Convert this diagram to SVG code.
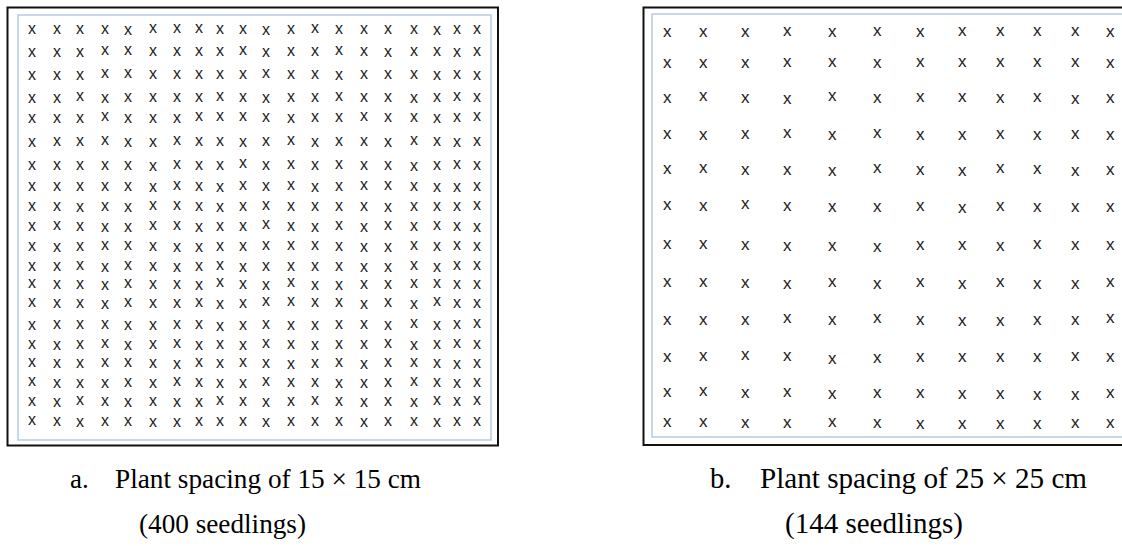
<svg xmlns="http://www.w3.org/2000/svg" width="1122" height="546" viewBox="0 0 1122 546">
<style>
.outer{fill:none;stroke:#111;stroke-width:2}
.inner{fill:none;stroke:#b7cbe0;stroke-width:1.5}
.xs{font-family:"Liberation Sans",Arial,sans-serif;font-size:16px;fill:#222}
.xr{font-family:"Liberation Sans",Arial,sans-serif;font-size:17px;fill:#222}
.cap{font-family:"Liberation Serif","Times New Roman",serif;font-size:27px;fill:#000}
.capb{font-family:"Liberation Serif","Times New Roman",serif;font-size:28.5px;fill:#000}
</style>
<rect width="1122" height="546" fill="#fff"/>
<g id="panel-a">
<rect class="outer" x="7.5" y="7.5" width="490.5" height="438"/>
<rect class="inner" x="18" y="15" width="473" height="425"/>
<g class="xs">
<text x="28 53 76 101 124 149 173 195 216 239 262 287 311 335 360 384 410 433 453 473" y="34 34 34 34 35 33 33 33 34 34 35 34 33 34 34 34 34 35 34 34">xxxxxxxxxxxxxxxxxxxx</text>
<text x="28 53 76 101 124 149 173 195 216 239 262 287 311 335 360 384 410 433 453 473" y="57 57 57 55 55 56 56 56 56 55 57 56 56 55 56 57 56 56 57 56">xxxxxxxxxxxxxxxxxxxx</text>
<text x="28 53 76 101 124 149 173 195 216 239 262 287 311 335 360 384 410 433 453 473" y="80 80 80 78 78 79 79 79 79 79 78 79 79 80 79 79 79 80 79 80">xxxxxxxxxxxxxxxxxxxx</text>
<text x="28 53 76 101 124 149 173 195 216 239 262 287 311 335 360 384 410 433 453 473" y="103 103 101 103 102 102 102 102 101 102 103 102 102 101 102 102 103 102 101 102">xxxxxxxxxxxxxxxxxxxx</text>
<text x="28 53 76 101 124 149 173 195 216 239 262 287 311 335 360 384 410 433 453 473" y="123 123 123 121 123 123 123 121 121 121 122 123 122 122 121 122 122 123 122 121">xxxxxxxxxxxxxxxxxxxx</text>
<text x="28 53 76 101 124 149 173 195 216 239 262 287 311 335 360 384 410 433 453 473" y="147 146 146 145 147 147 145 146 146 147 146 145 147 146 146 147 145 146 147 146">xxxxxxxxxxxxxxxxxxxx</text>
<text x="28 53 76 101 124 149 173 195 216 239 262 287 311 335 360 384 410 433 453 473" y="170 170 170 170 170 171 169 170 170 168 170 169 170 169 170 170 171 170 169 170">xxxxxxxxxxxxxxxxxxxx</text>
<text x="28 53 76 101 124 149 173 195 216 239 262 287 311 335 360 384 410 433 453 473" y="191 191 191 191 191 192 190 191 192 190 191 190 192 191 190 190 191 192 192 191">xxxxxxxxxxxxxxxxxxxx</text>
<text x="28 53 76 101 124 149 173 195 216 239 262 287 311 335 360 384 410 433 453 473" y="211 211 212 211 212 210 210 211 212 211 210 211 211 211 211 212 211 211 211 210">xxxxxxxxxxxxxxxxxxxx</text>
<text x="28 53 76 101 124 149 173 195 216 239 262 287 311 335 360 384 410 433 453 473" y="231 230 231 232 232 230 230 232 231 231 229 231 232 230 232 230 231 230 231 232">xxxxxxxxxxxxxxxxxxxx</text>
<text x="28 53 76 101 124 149 173 195 216 239 262 287 311 335 360 384 410 433 453 473" y="251 252 251 250 250 251 252 252 251 251 250 250 250 251 252 252 250 251 250 251">xxxxxxxxxxxxxxxxxxxx</text>
<text x="28 53 76 101 124 149 173 195 216 239 262 287 311 335 360 384 410 433 453 473" y="271 271 270 272 270 271 272 271 270 272 271 271 271 271 272 272 270 272 270 270">xxxxxxxxxxxxxxxxxxxx</text>
<text x="28 53 76 101 124 149 173 195 216 239 262 287 311 335 360 384 410 433 453 473" y="288 289 289 290 288 289 289 290 287 289 290 287 290 290 289 289 288 288 289 289">xxxxxxxxxxxxxxxxxxxx</text>
<text x="28 53 76 101 124 149 173 195 216 239 262 287 311 335 360 384 410 433 453 473" y="307 308 308 309 307 308 308 307 309 308 306 306 307 307 309 307 309 306 308 308">xxxxxxxxxxxxxxxxxxxx</text>
<text x="28 53 76 101 124 149 173 195 216 239 262 287 311 335 360 384 410 433 453 473" y="330 329 329 329 330 330 329 329 331 330 329 330 330 329 329 330 328 330 329 328">xxxxxxxxxxxxxxxxxxxx</text>
<text x="28 53 76 101 124 149 173 195 216 239 262 287 311 335 360 384 410 433 453 473" y="349 350 349 348 350 349 348 350 349 350 348 349 350 349 349 348 350 349 348 349">xxxxxxxxxxxxxxxxxxxx</text>
<text x="28 53 76 101 124 149 173 195 216 239 262 287 311 335 360 384 410 433 453 473" y="367 368 368 367 367 368 369 367 368 367 368 369 368 367 369 367 367 368 369 368">xxxxxxxxxxxxxxxxxxxx</text>
<text x="28 53 76 101 124 149 173 195 216 239 262 287 311 335 360 384 410 433 453 473" y="386 388 388 388 387 388 386 387 388 388 386 387 387 388 388 387 386 387 388 387">xxxxxxxxxxxxxxxxxxxx</text>
<text x="28 53 76 101 124 149 173 195 216 239 262 287 311 335 360 384 410 433 453 473" y="406 407 405 406 407 406 407 407 405 406 407 406 405 406 407 406 407 405 406 405">xxxxxxxxxxxxxxxxxxxx</text>
<text x="28 53 76 101 124 149 173 195 216 239 262 287 311 335 360 384 410 433 453 473" y="425 426 427 426 426 427 427 426 426 426 427 426 426 426 427 426 426 427 426 426">xxxxxxxxxxxxxxxxxxxx</text>
</g>
</g>
<g id="panel-b">
<rect class="outer" x="643.5" y="7.5" width="500" height="437.5"/>
<rect class="inner" x="652" y="14" width="490" height="423"/>
<g class="xr">
<text x="663 699 741 783 828 873 916 958 996 1033 1071 1106" y="37 37 37 36 37 36 37 36 36 36 36 37">xxxxxxxxxxxx</text>
<text x="663 699 741 783 828 873 916 958 996 1033 1071 1106" y="68 68 68 67 67 68 67 67 67 67 67 68">xxxxxxxxxxxx</text>
<text x="663 699 741 783 828 873 916 958 996 1033 1071 1106" y="103 101 103 104 101 103 102 102 103 102 104 103">xxxxxxxxxxxx</text>
<text x="663 699 741 783 828 873 916 958 996 1033 1071 1106" y="139 140 139 138 140 138 140 140 139 140 139 140">xxxxxxxxxxxx</text>
<text x="663 699 741 783 828 873 916 958 996 1033 1071 1106" y="174 173 175 175 176 173 175 176 173 174 176 175">xxxxxxxxxxxx</text>
<text x="663 699 741 783 828 873 916 958 996 1033 1071 1106" y="210 211 209 211 212 212 211 213 211 212 212 212">xxxxxxxxxxxx</text>
<text x="663 699 741 783 828 873 916 958 996 1033 1071 1106" y="249 249 250 251 251 252 250 250 251 249 250 250">xxxxxxxxxxxx</text>
<text x="663 699 741 783 828 873 916 958 996 1033 1071 1106" y="287 287 288 289 287 289 287 289 287 289 289 287">xxxxxxxxxxxx</text>
<text x="663 699 741 783 828 873 916 958 996 1033 1071 1106" y="325 325 325 323 325 323 325 326 326 325 325 323">xxxxxxxxxxxx</text>
<text x="663 699 741 783 828 873 916 958 996 1033 1071 1106" y="362 361 360 361 364 363 362 362 362 362 361 362">xxxxxxxxxxxx</text>
<text x="663 699 741 783 828 873 916 958 996 1033 1071 1106" y="397 396 398 397 399 398 398 399 399 400 400 398">xxxxxxxxxxxx</text>
<text x="663 699 741 783 828 873 916 958 996 1033 1071 1106" y="427 427 428 428 427 428 429 429 429 429 428 428">xxxxxxxxxxxx</text>
</g>
</g>
<g id="captions">
<text class="cap" x="70" y="488">a.</text>
<text class="cap" x="115" y="488" textLength="306" lengthAdjust="spacingAndGlyphs">Plant spacing of 15 × 15 cm</text>
<text class="cap" x="139" y="533" textLength="167" lengthAdjust="spacingAndGlyphs">(400 seedlings)</text>
<text class="capb" x="710" y="488">b.</text>
<text class="capb" x="760" y="488" textLength="327" lengthAdjust="spacingAndGlyphs">Plant spacing of 25 × 25 cm</text>
<text class="capb" x="785" y="533" textLength="178" lengthAdjust="spacingAndGlyphs">(144 seedlings)</text>
</g>
</svg>
